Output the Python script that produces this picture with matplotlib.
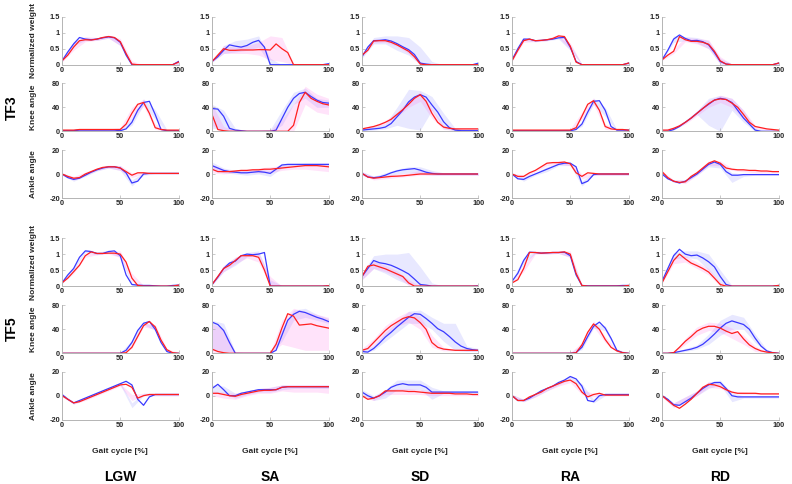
import numpy as np
import matplotlib
matplotlib.use("Agg")
import matplotlib.pyplot as plt

plt.rcParams['font.family'] = ['Liberation Sans', 'DejaVu Sans']
plt.rcParams['font.weight'] = 'bold'

tasks = ['LGW', 'SA', 'SD', 'RA', 'RD']
subjects = ['TF3', 'TF5']
gait = np.arange(0, 101, 5)      # mean curves, every 5 % of the cycle
band_x = np.arange(0, 101, 10)   # shaded bands, every 10 %

# ---------------- TF3 ----------------
tf3_weight_blue = [
    [0.12, 0.4, 0.65, 0.85, 0.8, 0.78, 0.8, 0.84, 0.87, 0.84, 0.7, 0.3, 0, 0, 0, 0, 0, 0, 0, 0, 0.1],
    [0.1, 0.25, 0.45, 0.62, 0.58, 0.55, 0.6, 0.7, 0.76, 0.55, 0, 0, 0, 0, 0, 0, 0, 0, 0, 0, 0.03],
    [0.25, 0.55, 0.75, 0.76, 0.78, 0.74, 0.66, 0.56, 0.47, 0.32, 0.05, 0.02, 0, 0, 0, 0, 0, 0, 0, 0, 0.05],
    [0.15, 0.5, 0.8, 0.8, 0.75, 0.76, 0.78, 0.8, 0.84, 0.85, 0.55, 0.1, 0, 0, 0, 0, 0, 0, 0, 0, 0.05],
    [0.15, 0.45, 0.8, 0.93, 0.82, 0.75, 0.76, 0.72, 0.62, 0.38, 0.1, 0.02, 0, 0, 0, 0, 0, 0, 0, 0, 0.05],
]
tf3_weight_red = [
    [0.12, 0.3, 0.55, 0.75, 0.78, 0.77, 0.8, 0.85, 0.88, 0.85, 0.72, 0.35, 0.02, 0, 0, 0, 0, 0, 0, 0, 0.08],
    [0.1, 0.3, 0.5, 0.45, 0.45, 0.46, 0.46, 0.46, 0.47, 0.47, 0.46, 0.65, 0.5, 0.38, 0, 0, 0, 0, 0, 0, 0],
    [0.3, 0.45, 0.74, 0.75, 0.75, 0.7, 0.62, 0.52, 0.42, 0.25, 0.02, 0, 0, 0, 0, 0, 0, 0, 0, 0, 0],
    [0.12, 0.45, 0.75, 0.8, 0.75, 0.76, 0.78, 0.82, 0.9, 0.88, 0.58, 0.08, 0, 0, 0, 0, 0, 0, 0, 0, 0.05],
    [0.15, 0.3, 0.42, 0.88, 0.78, 0.73, 0.73, 0.7, 0.64, 0.42, 0.12, 0.02, 0, 0, 0, 0, 0, 0, 0, 0, 0.05],
]
tf3_weight_blue_lo = [
    [0.1, 0.6, 0.76, 0.76, 0.83, 0.6, 0, 0, 0, 0, 0],
    [0.08, 0.35, 0.4, 0.45, 0.55, 0, 0, 0, 0, 0, 0],
    [0.2, 0.65, 0.65, 0.45, 0.3, 0, 0, 0, 0, 0, 0],
    [0.13, 0.76, 0.72, 0.75, 0.8, 0.45, 0, 0, 0, 0, 0],
    [0.13, 0.7, 0.75, 0.68, 0.5, 0.02, 0, 0, 0, 0, 0],
]
tf3_weight_blue_hi = [
    [0.14, 0.72, 0.84, 0.84, 0.9, 0.76, 0.03, 0, 0, 0, 0.1],
    [0.12, 0.6, 0.75, 0.8, 0.9, 0.2, 0, 0, 0, 0, 0.03],
    [0.3, 0.85, 0.9, 0.9, 0.85, 0.55, 0.1, 0, 0, 0, 0.05],
    [0.17, 0.84, 0.78, 0.8, 0.88, 0.62, 0.02, 0, 0, 0, 0.05],
    [0.17, 0.9, 0.88, 0.85, 0.75, 0.2, 0.02, 0, 0, 0, 0.05],
]
tf3_weight_red_lo = [
    [0.08, 0.45, 0.72, 0.76, 0.83, 0.6, 0, 0, 0, 0, 0],
    [0.08, 0.35, 0.35, 0.35, 0.3, 0.15, 0.1, 0, 0, 0, 0],
    [0.25, 0.68, 0.7, 0.58, 0.35, 0, 0, 0, 0, 0, 0],
    [0.1, 0.7, 0.72, 0.75, 0.85, 0.48, 0, 0, 0, 0, 0],
    [0.13, 0.35, 0.72, 0.65, 0.5, 0.02, 0, 0, 0, 0, 0],
]
tf3_weight_red_hi = [
    [0.16, 0.72, 0.88, 0.85, 0.93, 0.82, 0.12, 0, 0, 0, 0.08],
    [0.12, 0.6, 0.55, 0.6, 0.7, 0.9, 0.85, 0.05, 0, 0, 0],
    [0.35, 0.8, 0.8, 0.66, 0.5, 0.08, 0, 0, 0, 0, 0],
    [0.14, 0.82, 0.78, 0.82, 0.95, 0.68, 0.02, 0, 0, 0, 0.05],
    [0.17, 0.5, 0.85, 0.82, 0.78, 0.25, 0.02, 0, 0, 0, 0.05],
]

tf3_knee_blue = [
    [1, 1, 1, 2, 2, 2, 2, 2, 2, 2, 1, 4, 15, 35, 48, 50, 28, 3, 1, 1, 1],
    [38, 37, 25, 5, 2, 1, 0, 0, 0, 0, 0, 2, 21, 40, 55, 63, 65, 58, 52, 48, 47],
    [2, 3, 4, 5, 7, 13, 24, 35, 49, 57, 61, 57, 44, 32, 16, 6, 2, 1, 1, 1, 1],
    [1, 1, 1, 1, 1, 1, 1, 1, 1, 1, 1, 3, 12, 32, 50, 51, 35, 8, 2, 2, 2],
    [0, 0, 3, 8, 15, 22, 30, 38, 45, 52, 55, 53, 48, 35, 22, 12, 2, 0, 0, 0, 0],
]
tf3_knee_red = [
    [2, 2, 2, 3, 3, 3, 3, 3, 3, 3, 3, 12, 30, 45, 48, 30, 6, 3, 2, 2, 2],
    [28, 3, 1, 0, 0, 0, 0, 0, 0, 0, 0, 0, 0, 0, 10, 48, 65, 55, 50, 46, 44],
    [4, 6, 8, 11, 15, 20, 28, 36, 45, 55, 61, 50, 30, 15, 7, 5, 4, 4, 4, 4, 4],
    [2, 2, 2, 2, 2, 2, 2, 2, 2, 2, 2, 6, 25, 45, 51, 35, 8, 4, 3, 3, 2],
    [2, 2, 5, 9, 15, 22, 30, 38, 46, 52, 54, 53, 47, 40, 28, 15, 8, 6, 4, 3, 2],
]
tf3_knee_blue_lo = [
    [0, 0, 1, 1, 1, 0, 10, 44, 20, 0, 0],
    [5, 3, 0, 0, 0, 0, 10, 45, 55, 40, 40],
    [0, 2, 4, 10, 5, 2, 35, 5, 0, 0, 0],
    [0, 0, 0, 0, 0, 0, 8, 45, 25, 1, 1],
    [0, 2, 14, 28, 10, 0, 35, 15, 0, 0, 0],
]
tf3_knee_blue_hi = [
    [2, 2, 3, 3, 3, 3, 22, 54, 36, 3, 2],
    [45, 35, 5, 1, 1, 3, 35, 65, 72, 55, 52],
    [4, 8, 12, 40, 70, 68, 58, 30, 5, 2, 2],
    [2, 2, 2, 2, 2, 2, 16, 55, 40, 3, 3],
    [1, 5, 18, 34, 55, 60, 55, 35, 5, 1, 1],
]
tf3_knee_red_lo = [
    [1, 1, 2, 2, 2, 1, 22, 42, 3, 1, 1],
    [10, 0, 0, 0, 0, 0, 0, 0, 45, 32, 28],
    [2, 6, 12, 24, 40, 50, 22, 3, 2, 2, 2],
    [1, 1, 1, 1, 1, 1, 20, 45, 3, 2, 1],
    [1, 3, 12, 26, 40, 48, 40, 20, 5, 2, 1],
]
tf3_knee_red_hi = [
    [3, 3, 4, 4, 4, 6, 40, 54, 12, 3, 3],
    [45, 8, 1, 1, 1, 2, 20, 45, 75, 62, 55],
    [6, 10, 18, 32, 52, 66, 38, 10, 6, 6, 6],
    [3, 3, 3, 3, 3, 4, 32, 56, 12, 4, 3],
    [3, 7, 18, 34, 52, 60, 55, 35, 10, 5, 3],
]

tf3_ankle_blue = [
    [0, -3, -4.5, -3.5, -1, 1.5, 3.5, 5, 6, 6, 5, 1, -7.5, -6, 0, 0.5, 0.5, 0.5, 0.5, 0.5, 0.5],
    [7, 5, 3, 2, 1.5, 1, 1, 1.5, 2, 1.5, 0.5, 4, 7.5, 8, 8, 8, 8, 8, 8, 8, 8],
    [0.5, -2.5, -3, -2.5, -1, 1, 2.5, 3.5, 4, 4.5, 3.2, 1.5, 0.5, 0, 0, 0, 0, 0, 0, 0, 0],
    [0, -4, -4.5, -2, 0, 2, 4, 6, 8, 9, 9, 6, -8, -6, -0.5, 0, 0, 0, 0, 0, 0],
    [0, -4, -6, -7.5, -6, -3, 0, 4, 8, 10, 8, 2, -1, -1, -0.5, -0.5, -0.5, -0.5, -0.5, -0.5, -0.5],
]
tf3_ankle_red = [
    [0, -2, -3.5, -3, 0, 2, 4, 5.5, 6, 6, 5, 2, -1, 1, 1, 0.5, 0.5, 0.5, 0.5, 0.5, 0.5],
    [4, 2, 2, 2, 2.5, 3, 3, 3.5, 3.5, 4, 4, 4.5, 5, 5.5, 6, 6.5, 7, 7, 7, 6.5, 6],
    [0.5, -2.5, -3.5, -3, -2.5, -2, -1.8, -1.5, -1, -0.5, 0, 0, 0, 0, 0, 0, 0, 0, 0, 0, 0],
    [0, -2, -2, 1, 3, 6, 9, 9.5, 9.5, 10, 8.5, 1, -2, 1, 0.5, 0, 0, 0, 0, 0, 0],
    [2, -3, -6, -7, -6.5, -2, 1, 5, 9, 11, 9, 5, 4, 3.5, 3.5, 3, 3, 2.5, 2.5, 2, 2],
]
tf3_ankle_blue_lo = [
    [-1, -6, -2, 2.5, 5, 3, -10, -1, 0, 0, 0],
    [4, 1, 0, -1, 0, -2, 5, 7, 7, 7, 7],
    [-1, -4, -2, 0, 1, 0, -1, -1, -1, -1, -1],
    [-1, -6, -1, 2, 7, 7, -10, -1, -1, -1, -1],
    [-1, -7, -7, -1, 6, 5, -7, -2, -1, -1, -1],
]
tf3_ankle_blue_hi = [
    [1, -3, 0, 4.5, 7, 7, -5, 1, 1, 1, 1],
    [10, 5, 3, 3, 4, 3, 9, 9, 9, 9, 9],
    [2, -2, 1, 4, 6, 6, 3, 1, 1, 1, 1],
    [1, -3, 1, 6, 9, 10, -6, 1, 1, 1, 1],
    [1, -5, -5, 1, 9, 10, 1, 0, 0, 0, 0],
]
tf3_ankle_red_lo = [
    [-1, -5, -1, 3, 5, 3, -3, 0, 0, 0, 0],
    [1, 0, 1, 1, 1, 1, 3, 4, 4, 3, 2],
    [-1, -5, -4, -3, -2, -1, -1, -1, -1, -1, -1],
    [-1, -3, 2, 7, 8, 7, -4, -1, -1, -1, -1],
    [1, -7, -8, -1, 7, 7, 3, 2, 1, 1, 1],
]
tf3_ankle_red_hi = [
    [1, -2, 1.5, 5, 7.5, 7, 1, 2, 1, 1, 1],
    [8, 4, 3, 4, 5, 6, 7, 8, 9, 9, 9],
    [2, -2, -1, 0, 1, 3, 2, 1, 1, 1, 1],
    [1, -1, 4, 10, 11, 10, 0, 1, 1, 1, 1],
    [3, -5, -5, 2, 11, 11, 5, 4, 3, 3, 3],
]

# ---------------- TF5 ----------------
tf5_weight_blue = [
    [0.1, 0.35, 0.55, 0.9, 1.1, 1.08, 1.02, 1.02, 1.08, 1.1, 0.95, 0.35, 0.05, 0.03, 0.02, 0.02, 0.01, 0, 0, 0.02, 0.03],
    [0.05, 0.28, 0.55, 0.72, 0.78, 0.95, 1.0, 0.98, 1.0, 1.05, 0, 0, 0, 0, 0, 0, 0, 0, 0, 0, 0.01],
    [0.3, 0.55, 0.8, 0.73, 0.7, 0.65, 0.57, 0.48, 0.38, 0.22, 0.05, 0.03, 0, 0, 0, 0, 0, 0, 0, 0, 0.01],
    [0.15, 0.4, 0.8, 1.06, 1.05, 1.03, 1.04, 1.05, 1.05, 1.06, 0.95, 0.35, 0.02, 0.01, 0.01, 0.01, 0.01, 0.01, 0.01, 0.02, 0.02],
    [0.15, 0.55, 0.95, 1.15, 1.0, 0.95, 0.97, 0.88, 0.76, 0.6, 0.3, 0.05, 0, 0, 0, 0, 0, 0, 0, 0, 0.02],
]
tf5_weight_red = [
    [0.1, 0.25, 0.45, 0.65, 0.95, 1.07, 1.02, 1.02, 1.03, 1.03, 1.0, 0.75, 0.25, 0.02, 0, 0, 0, 0, 0, 0, 0.03],
    [0.05, 0.3, 0.55, 0.65, 0.8, 0.95, 0.95, 0.95, 0.9, 0.5, 0, 0, 0, 0, 0, 0, 0, 0, 0, 0, 0.01],
    [0.3, 0.62, 0.66, 0.6, 0.54, 0.46, 0.38, 0.3, 0.1, 0, 0, 0, 0, 0, 0, 0, 0, 0, 0, 0, 0],
    [0.1, 0.2, 0.55, 1.05, 1.05, 1.03, 1.04, 1.05, 1.05, 1.07, 1.0, 0.4, 0.02, 0, 0, 0, 0, 0, 0, 0, 0.02],
    [0.1, 0.45, 0.8, 1.0, 0.85, 0.72, 0.64, 0.55, 0.44, 0.25, 0.05, 0, 0, 0, 0, 0, 0, 0, 0, 0, 0.02],
]
tf5_weight_blue_lo = [
    [0.08, 0.5, 1.05, 0.98, 1.05, 0.9, 0.02, 0, 0, 0, 0],
    [0.03, 0.45, 0.65, 0.92, 0.95, 0, 0, 0, 0, 0, 0],
    [0.2, 0.55, 0.4, 0.2, 0.05, 0, 0, 0, 0, 0, 0],
    [0.12, 0.7, 1.02, 1.01, 1.02, 0.9, 0, 0, 0, 0, 0],
    [0.12, 0.85, 0.9, 0.85, 0.5, 0.1, 0, 0, 0, 0, 0],
]
tf5_weight_blue_hi = [
    [0.12, 0.6, 1.15, 1.06, 1.12, 1.0, 0.1, 0.04, 0.01, 0, 0.03],
    [0.07, 0.62, 0.9, 1.05, 1.1, 0.2, 0.02, 0, 0, 0, 0.01],
    [0.4, 0.95, 1.0, 1.0, 1.05, 0.6, 0.1, 0, 0, 0, 0.01],
    [0.18, 0.9, 1.08, 1.07, 1.08, 1.0, 0.04, 0.02, 0.02, 0.02, 0.02],
    [0.18, 1.05, 1.1, 1.1, 1.0, 0.5, 0.02, 0, 0, 0, 0.02],
]
tf5_weight_red_lo = [
    [0.08, 0.4, 0.9, 0.98, 1.0, 0.9, 0.15, 0, 0, 0, 0],
    [0.03, 0.45, 0.7, 0.88, 0.75, 0, 0, 0, 0, 0, 0],
    [0.2, 0.55, 0.45, 0.3, 0.02, 0, 0, 0, 0, 0, 0],
    [0.08, 0.45, 1.0, 1.0, 1.02, 0.9, 0, 0, 0, 0, 0],
    [0.08, 0.7, 0.75, 0.55, 0.35, 0, 0, 0, 0, 0, 0],
]
tf5_weight_red_hi = [
    [0.12, 0.5, 1.0, 1.06, 1.06, 1.1, 0.4, 0.02, 0, 0, 0.03],
    [0.07, 0.65, 0.9, 1.02, 1.05, 0.3, 0, 0, 0, 0, 0.01],
    [0.4, 0.78, 0.65, 0.48, 0.2, 0, 0, 0, 0, 0, 0],
    [0.12, 0.65, 1.1, 1.08, 1.1, 1.1, 0.05, 0, 0, 0, 0.02],
    [0.12, 0.9, 0.95, 0.75, 0.55, 0.12, 0, 0, 0, 0, 0.02],
]

tf5_knee_blue = [
    [0, 0, 0, 0, 0, 0, 0, 0, 0, 0, 0, 5, 18, 38, 50, 53, 40, 18, 3, 0, 0],
    [52, 48, 38, 18, 0, 0, 0, 0, 0, 0, 0, 5, 30, 55, 65, 70, 68, 64, 60, 57, 53],
    [3, 2, 8, 17, 27, 35, 44, 52, 60, 66, 65, 58, 50, 41, 36, 28, 19, 12, 8, 6, 5],
    [0, 0, 0, 0, 0, 0, 0, 0, 0, 0, 0, 1, 10, 28, 45, 52, 42, 25, 5, 1, 0],
    [0, 0, 1, 3, 5, 7, 10, 15, 23, 32, 42, 50, 54, 51, 48, 40, 25, 12, 4, 1, 0],
]
tf5_knee_red = [
    [0, 0, 0, 0, 0, 0, 0, 0, 0, 0, 0, 1, 10, 28, 46, 53, 44, 22, 6, 1, 0],
    [7, 3, 1, 0, 0, 0, 0, 0, 0, 0, 0, 15, 42, 66, 62, 47, 48, 49, 46, 44, 42],
    [5, 8, 18, 28, 38, 46, 52, 58, 61, 59, 51, 40, 18, 10, 7, 6, 5, 5, 5, 5, 5],
    [0, 0, 0, 0, 0, 0, 0, 0, 0, 0, 0, 1, 14, 35, 49, 40, 23, 10, 4, 1, 0],
    [0, 0, 1, 10, 20, 28, 37, 42, 45, 45, 42, 37, 33, 36, 24, 14, 8, 4, 2, 1, 0],
]
tf5_knee_blue_lo = [
    [0, 0, 0, 0, 0, 0, 15, 48, 38, 2, 0],
    [5, 3, 0, 0, 0, 0, 20, 55, 60, 55, 50],
    [0, 5, 20, 35, 50, 50, 40, 20, 5, 3, 3],
    [0, 0, 0, 0, 0, 0, 6, 42, 38, 3, 0],
    [0, 0, 3, 7, 15, 30, 40, 40, 18, 2, 0],
]
tf5_knee_blue_hi = [
    [1, 1, 1, 1, 1, 1, 22, 54, 42, 4, 1],
    [55, 50, 2, 1, 1, 1, 40, 72, 75, 65, 58],
    [6, 12, 35, 52, 70, 72, 60, 50, 50, 12, 8],
    [1, 1, 1, 1, 1, 1, 14, 50, 46, 7, 1],
    [1, 2, 8, 14, 32, 55, 65, 60, 32, 6, 1],
]
tf5_knee_red_lo = [
    [0, 0, 0, 0, 0, 0, 8, 44, 40, 5, 0],
    [0, 0, 0, 0, 0, 0, 15, 10, 5, 5, 5],
    [3, 12, 30, 45, 52, 40, 10, 4, 4, 4, 4],
    [0, 0, 0, 0, 0, 0, 10, 44, 18, 2, 0],
    [0, 0, 15, 30, 38, 35, 25, 15, 3, 1, 0],
]
tf5_knee_red_hi = [
    [1, 1, 1, 1, 1, 1, 14, 50, 48, 8, 1],
    [50, 40, 2, 1, 1, 1, 55, 75, 70, 65, 60],
    [8, 24, 46, 60, 70, 62, 30, 10, 6, 6, 6],
    [1, 1, 1, 1, 1, 1, 18, 54, 28, 6, 1],
    [1, 2, 25, 44, 52, 50, 42, 30, 12, 3, 1],
]

tf5_ankle_blue = [
    [1, -3, -6, -4, -2, 0, 2, 4, 6, 8, 10, 12, 9, -3, -8, -1, 1, 1, 1, 1, 1],
    [6, 9.5, 5, 0, 0, 2, 3, 4, 5, 5, 5, 5, 7, 7.5, 7.5, 7.5, 7.5, 7.5, 7.5, 7.5, 7.5],
    [3, 0, -2, 0, 3, 7, 9, 10, 9, 9, 9, 7, 3, 3, 3, 3, 3, 3, 3, 3, 3],
    [0, -4, -4, -2, 1, 4, 6, 8, 11, 13, 16, 14, 8, -4, -5, 0, 1, 1, 1, 1, 1],
    [0, -3, -7.5, -8, -5, -2, 2, 6, 9, 11, 11, 6, 0, -1, -1, -1, -1, -1, -1, -1, -1],
]
tf5_ankle_red = [
    [0, -3, -6, -5, -3, -1, 1, 3, 5, 7, 9, 9.5, 7, -2, 0, 1, 1, 1, 1, 1, 1],
    [2, 2, 1, 0, -0.5, 1, 2, 3, 4, 4.5, 4.5, 5, 7, 7.5, 7.5, 7.5, 7.5, 7.5, 7.5, 7.5, 7.5],
    [0, -3, -2, 0, 4, 4, 4, 4, 3.5, 3.5, 3, 2.5, 2, 2, 2, 2, 1.5, 1.5, 1.5, 1, 1],
    [0, -4, -4, -1, 1, 3, 6, 8, 10, 12, 13, 10, 3, -1, 1, 2, 0.5, 0.5, 0.5, 0.5, 0.5],
    [0, -4, -8, -10.5, -7, -3, 2, 7, 9.5, 9, 7.5, 5, 3, 2, 2, 2, 2, 1.5, 1.5, 1.5, 1.5],
]
tf5_ankle_blue_lo = [
    [0, -7, -3, 1, 5, 9, -10, 0, 0, 0, 0],
    [3, 2, -2, 1, 3, 3, 5, 6, 6, 6, 6],
    [1, -4, -2, 5, 5, 5, -3, 2, 2, 2, 2],
    [-1, -5, -1, 4, 9, 14, 6, -6, 0, 0, 0],
    [-1, -9, -5, 0, 6, 9, -5, -2, -2, -2, -2],
]
tf5_ankle_blue_hi = [
    [2, -5, -1, 3, 7, 11, -6, 2, 2, 2, 2],
    [9, 8, 2, 4, 6, 7, 9, 9, 9, 9, 9],
    [5, 0, 5, 13, 13, 13, 7, 4, 4, 4, 4],
    [1, -3, 1, 6, 11, 16, 10, -3, 2, 2, 2],
    [1, -6, -1, 4, 11, 13, 2, 0, 0, 0, 0],
]
tf5_ankle_red_lo = [
    [-1, -7, -4, 0, 4, 8, -4, 0, 0, 0, 0],
    [0, -2, -3, 0, 2, 2, 4, 3, 3, 3, 2],
    [-1, -4, 1, 1, 1, 1, 0, 0, 0, 0, 0],
    [-1, -5, -1, 4, 8, 11, 1, -1, 0, 0, 0],
    [-1, -10, -5, 0, 7, 6, 2, 1, 1, 1, 1],
]
tf5_ankle_red_hi = [
    [1, -5, -2, 2, 6, 10, 1, 2, 2, 2, 2],
    [4, 3, 2, 4, 6, 7, 9, 9, 9, 9, 9],
    [1, -1, 5, 6, 6, 5, 4, 4, 3, 2, 2],
    [1, -3, 1, 7, 11, 14, 5, 2, 1, 1, 1],
    [1, -6, -1, 4, 12, 10, 4, 3, 2, 2, 2],
]

ylabels = ['Normalized weight', 'Knee angle', 'Ankle angle']
ylims = [(0, 1.5), (0, 80), (-20, 20)]
yticks = [[0, 0.5, 1, 1.5], [0, 40, 80], [-20, 0, 20]]
ytick_labels = [['0', '0.5', '1', '1.5'], ['0', '40', '80'], ['-20', '0', '20']]

rows = [
    (tf3_weight_blue, tf3_weight_red, tf3_weight_blue_lo, tf3_weight_blue_hi, tf3_weight_red_lo, tf3_weight_red_hi),
    (tf3_knee_blue, tf3_knee_red, tf3_knee_blue_lo, tf3_knee_blue_hi, tf3_knee_red_lo, tf3_knee_red_hi),
    (tf3_ankle_blue, tf3_ankle_red, tf3_ankle_blue_lo, tf3_ankle_blue_hi, tf3_ankle_red_lo, tf3_ankle_red_hi),
    (tf5_weight_blue, tf5_weight_red, tf5_weight_blue_lo, tf5_weight_blue_hi, tf5_weight_red_lo, tf5_weight_red_hi),
    (tf5_knee_blue, tf5_knee_red, tf5_knee_blue_lo, tf5_knee_blue_hi, tf5_knee_red_lo, tf5_knee_red_hi),
    (tf5_ankle_blue, tf5_ankle_red, tf5_ankle_blue_lo, tf5_ankle_blue_hi, tf5_ankle_red_lo, tf5_ankle_red_hi),
]

BLUE = '#3a3aff'
RED = '#ff1f1f'
W, H = 792, 484
col_left = [62, 212, 362, 512, 662]
row_top = [16.7, 83.3, 150, 238.1, 305.3, 371.7]
ax_w, ax_h = 116.5, 48

fig = plt.figure(figsize=(W / 100, H / 100), dpi=100)

for r in range(6):
    m = r % 3
    blue, red, blo, bhi, rlo, rhi = rows[r]
    for c in range(5):
        ax = fig.add_axes([col_left[c] / W, 1 - (row_top[r] + ax_h) / H, ax_w / W, ax_h / H])
        ax.fill_between(band_x, blo[c], bhi[c], color=(0.55, 0.55, 1.0), alpha=0.2, lw=0)
        ax.fill_between(band_x, rlo[c], rhi[c], color=(1.0, 0.45, 0.9), alpha=0.2, lw=0)
        ax.plot(gait, blue[c], color=BLUE, lw=0.9)
        ax.plot(gait, red[c], color=RED, lw=0.9)
        ax.set_xlim(0, 100)
        ax.set_ylim(*ylims[m])
        ax.set_xticks([0, 50, 100])
        ax.set_yticks(yticks[m])
        ax.set_yticklabels(ytick_labels[m])
        for s in ['top', 'right']:
            ax.spines[s].set_visible(False)
        for s in ['left', 'bottom']:
            ax.spines[s].set_color('#b4b4b4')
            ax.spines[s].set_linewidth(0.7)
        ax.tick_params(direction='in', length=2, width=0.5, color='#b4b4b4',
                       labelsize=5.3, labelcolor='#262626', pad=1.5)
        for t in ax.get_xticklabels() + ax.get_yticklabels():
            t.set_fontweight('bold')
        if c == 0:
            ax.set_ylabel(ylabels[m], fontsize=6, fontweight='bold', color='#262626')
            ax.yaxis.set_label_coords(-0.215, 0.5)
        if r == 5:
            ax.set_xlabel('Gait cycle [%]', fontsize=6, fontweight='bold', color='#262626', labelpad=14)

for i, s in enumerate(subjects):
    yc = (row_top[3 * i] + row_top[3 * i + 2] + ax_h) / 2
    fig.text(12 / W, 1 - yc / H, s, rotation=90, ha='center', va='center',
             fontsize=10, fontweight='bold')

for c, t in enumerate(tasks):
    fig.text((col_left[c] + ax_w / 2) / W, 1 - 477 / H, t, ha='center', va='center',
             fontsize=10, fontweight='bold')

fig.savefig('out.png', dpi=100)
